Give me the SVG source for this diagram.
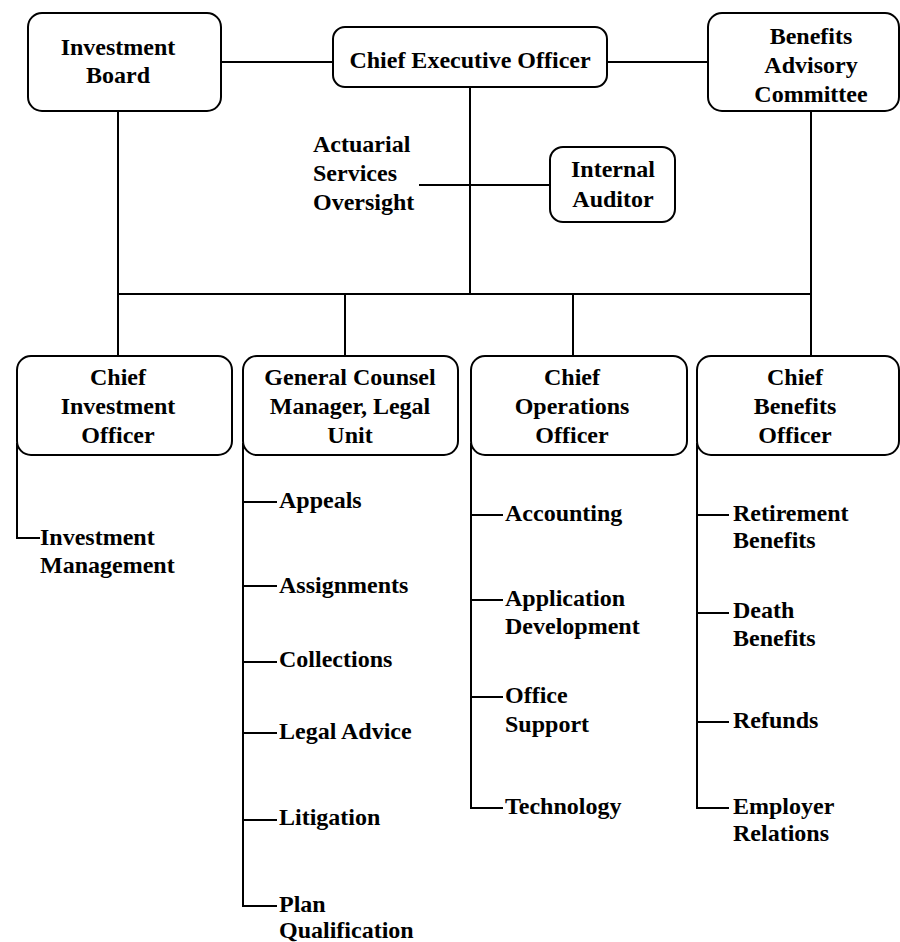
<svg xmlns="http://www.w3.org/2000/svg" width="900" height="942" viewBox="0 0 900 942">
<style>
.box{fill:#fff;stroke:#000;stroke-width:2}
.ln{fill:none;stroke:#000;stroke-width:2}
text{font-family:"Liberation Serif","Times New Roman",serif;font-weight:bold;font-size:24px;fill:#000}
.c{text-anchor:middle}
</style>
<rect width="900" height="942" fill="#fff"/>
<g id="connectors">
<path class="ln" d="M221,62H333M607,62H708"/>
<path class="ln" d="M470,87V294M118,111V356M811,111V356M118,294H811M345,294V356M573,294V356"/>
<path class="ln" d="M419,185H550"/>
<path class="ln" d="M17,443V538H40"/>
<path class="ln" d="M243,443V906H277M243,502H277M243,586H277M243,662H277M243,733H277M243,820H277"/>
<path class="ln" d="M471,443V808H503M471,515H503M471,600H503M471,697H503"/>
<path class="ln" d="M697,443V808H729M697,515H729M697,613H729M697,722H729"/>
</g>
<g id="investment-board"><rect class="box" x="28" y="13" width="193" height="98" rx="14"/>
<text class="c" x="118" y="55">Investment</text><text class="c" x="118" y="83">Board</text></g>
<g id="ceo"><rect class="box" x="333" y="27" width="274" height="60" rx="12"/>
<text class="c" x="470" y="68">Chief Executive Officer</text></g>
<g id="benefits-advisory"><rect class="box" x="708" y="13" width="191" height="98" rx="14"/>
<text class="c" x="811" y="44">Benefits</text><text class="c" x="811" y="73">Advisory</text><text class="c" x="811" y="102">Committee</text></g>
<g id="actuarial"><text x="313" y="152">Actuarial</text><text x="313" y="181">Services</text><text x="313" y="210">Oversight</text></g>
<g id="internal-auditor"><rect class="box" x="550" y="147" width="125" height="75" rx="13"/>
<text class="c" x="613" y="177">Internal</text><text class="c" x="613" y="207">Auditor</text></g>
<g id="cio"><rect class="box" x="17" y="356" width="215" height="99" rx="14"/>
<text class="c" x="118" y="385">Chief</text><text class="c" x="118" y="414">Investment</text><text class="c" x="118" y="443">Officer</text></g>
<g id="general-counsel"><rect class="box" x="243" y="356" width="215" height="99" rx="14"/>
<text class="c" x="350" y="385">General Counsel</text><text class="c" x="350" y="414">Manager, Legal</text><text class="c" x="350" y="443">Unit</text></g>
<g id="coo"><rect class="box" x="471" y="356" width="216" height="99" rx="14"/>
<text class="c" x="572" y="385">Chief</text><text class="c" x="572" y="414">Operations</text><text class="c" x="572" y="443">Officer</text></g>
<g id="cbo"><rect class="box" x="697" y="356" width="202" height="99" rx="14"/>
<text class="c" x="795" y="385">Chief</text><text class="c" x="795" y="414">Benefits</text><text class="c" x="795" y="443">Officer</text></g>
<g id="investment-management"><text x="40" y="545">Investment</text><text x="40" y="573">Management</text></g>
<g id="appeals"><text x="279" y="508">Appeals</text></g>
<g id="assignments"><text x="279" y="593">Assignments</text></g>
<g id="collections"><text x="279" y="667">Collections</text></g>
<g id="legal-advice"><text x="279" y="739">Legal Advice</text></g>
<g id="litigation"><text x="279" y="825">Litigation</text></g>
<g id="plan-qualification"><text x="279" y="912">Plan</text><text x="279" y="938">Qualification</text></g>
<g id="accounting"><text x="505" y="521">Accounting</text></g>
<g id="application-development"><text x="505" y="606">Application</text><text x="505" y="634">Development</text></g>
<g id="office-support"><text x="505" y="703">Office</text><text x="505" y="732">Support</text></g>
<g id="technology"><text x="505" y="814">Technology</text></g>
<g id="retirement-benefits"><text x="733" y="521">Retirement</text><text x="733" y="548">Benefits</text></g>
<g id="death-benefits"><text x="733" y="618">Death</text><text x="733" y="646">Benefits</text></g>
<g id="refunds"><text x="733" y="728">Refunds</text></g>
<g id="employer-relations"><text x="733" y="814">Employer</text><text x="733" y="841">Relations</text></g>
</svg>
